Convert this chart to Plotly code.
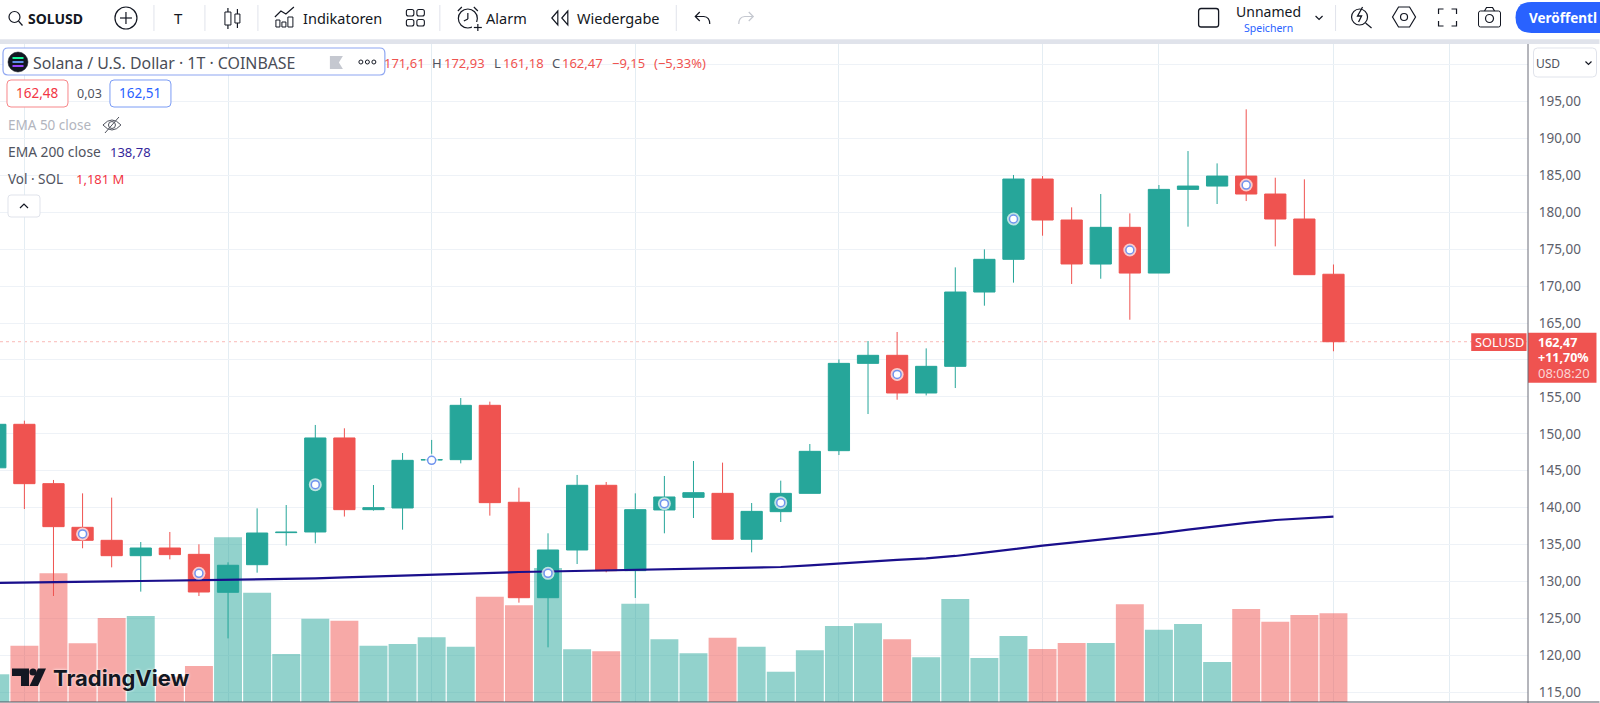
import plotly.graph_objects as go

# ---------- data ----------
candle_index = list(range(-1, 46))
opens = [145.4, 151.29, 143.25, 137.34, 135.58, 133.5, 134.54, 133.68, 128.54, 132.28, 136.62, 136.71, 149.44, 139.73, 139.96,
         146.46, 146.5, 153.86, 140.73, 127.81, 134.27, 143.03, 131.47, 139.69, 141.4, 141.94, 135.72, 139.46, 141.94, 147.72,
         159.54, 160.63, 155.53, 159.14, 169.2, 173.63, 184.5, 178.95, 172.99, 177.96, 171.77, 183.1, 183.55, 184.9, 182.47,
         179.09, 171.61]
highs = [151.8, 151.78, 143.75, 141.94, 141.36, 135.35, 136.71, 135.04, 132.6, 139.91, 140.36, 151.2, 150.75, 143.07, 147.4,
         149.17, 154.85, 154.36, 142.71, 136.53, 144.43, 143.48, 141.94, 144.29, 146.32, 146.1, 140.63, 143.66, 148.62, 160.08,
         162.57, 163.79, 161.57, 172.54, 174.98, 185.05, 184.9, 180.67, 182.47, 179.85, 183.69, 188.29, 186.62, 193.94, 184.68,
         184.46, 172.93]
lows = [143.5, 139.82, 128.04, 134.5, 131.92, 128.63, 133.0, 128.04, 122.3, 131.2, 134.86, 135.17, 138.8, 139.6, 137.02,
        145.8, 146.0, 138.92, 127.14, 121.09, 132.37, 131.25, 127.77, 136.53, 138.6, 135.72, 133.95, 138.06, 141.94, 147.13,
        152.68, 154.62, 155.2, 156.2, 167.35, 170.47, 176.83, 170.29, 171.0, 165.45, 171.77, 178.05, 181.12, 181.52, 175.38,
        171.55, 161.18]
closes = [151.29, 143.25, 137.43, 135.58, 133.5, 134.54, 133.64, 128.58, 132.2, 136.57, 136.68, 149.44, 139.73, 140.0, 146.41,
          146.5, 153.86, 140.68, 127.81, 134.27, 143.03, 131.47, 139.73, 141.45, 142.03, 135.72, 139.5, 141.94, 147.63, 159.54,
          160.63, 155.53, 159.14, 169.2, 173.63, 184.5, 178.95, 173.0, 177.96, 171.77, 183.1, 183.55, 184.9, 182.47, 179.09,
          171.55, 162.47]
volumes_m = [0.369, 0.749, 1.713, 0.781, 1.118, 1.145, 0.337, 0.479, 2.192, 1.455, 0.639, 1.109, 1.082, 0.749, 0.772,
             0.861, 0.736, 1.402, 1.287, 1.784, 0.701, 0.675, 1.308, 0.835, 0.648, 0.856, 0.736, 0.403, 0.688, 1.012,
             1.047, 0.835, 0.595, 1.371, 0.586, 0.878, 0.705, 0.785, 0.785, 1.300, 0.962, 1.038, 0.532, 1.238, 1.069,
             1.158, 1.181]
ema200 = [129.8, 129.88, 129.93, 129.98, 130.02, 130.07, 130.12, 130.18, 130.23, 130.28, 130.34, 130.42, 130.55, 130.68, 130.84,
          130.97, 131.08, 131.2, 131.29, 131.36, 131.43, 131.5, 131.56, 131.62, 131.68, 131.74, 131.85, 131.97, 132.19, 132.46,
          132.69, 132.92, 133.14, 133.46, 133.91, 134.41, 134.86, 135.26, 135.67, 136.07, 136.53, 137.02, 137.52, 137.93, 138.33,
          138.6, 138.78]
signal_index = [2, 6, 10, 14, 18, 22, 26, 30, 34, 38, 42]
signal_price = [136.44, 131.11, 143.12, 146.41, 131.11, 140.54, 140.68, 158.05, 179.09, 174.89, 183.69]
price_ticks = [115, 120, 125, 130, 135, 140, 145, 150, 155, 160, 165, 170, 175, 180, 185, 190, 195, 200]
hidden_tick_labels = [160, 200]
time_grid = [0, 7, 14, 21, 28, 35, 39, 45, 49]
assert len(opens) == len(highs) == len(lows) == len(closes) == len(volumes_m) == len(ema200) == len(candle_index)

GREEN, RED = "#26a69a", "#ef5350"
INK = "#131722"
FONT = "Noto Sans"
W, H = 1600, 703
PR, PT, PB = 1528.5, 44, 702


def X(px):
    return px / PR


def Y(py):
    return 1 - (py - PT) / (PB - PT)


shapes, notes = [], []


def line(x0, y0, x1, y1, color=INK, w=1.2):
    shapes.append(dict(type="line", xref="paper", yref="paper", x0=X(x0), y0=Y(y0), x1=X(x1), y1=Y(y1),
                       line=dict(color=color, width=w), layer="above"))


def rect(x0, y0, x1, y1, color="rgba(0,0,0,0)", fill="rgba(0,0,0,0)", w=1):
    shapes.append(dict(type="rect", xref="paper", yref="paper", x0=X(x0), y0=Y(y0), x1=X(x1), y1=Y(y1),
                       line=dict(color=color, width=w), fillcolor=fill, layer="above"))


def circ(cx, cy, r, color=INK, fill="rgba(0,0,0,0)", w=1.2):
    shapes.append(dict(type="circle", xref="paper", yref="paper", x0=X(cx - r), y0=Y(cy - r), x1=X(cx + r), y1=Y(cy + r),
                       line=dict(color=color, width=w), fillcolor=fill, layer="above"))


def path(cmds, color=INK, fill="rgba(0,0,0,0)", w=1.2):
    out = []
    for c in cmds:
        op, vals = c[0], c[1:]
        pts = [f"{X(vals[i]):.6f} {Y(vals[i + 1]):.6f}" for i in range(0, len(vals), 2)]
        out.append(op + " " + " ".join(pts))
    shapes.append(dict(type="path", xref="paper", yref="paper", path=" ".join(out),
                       line=dict(color=color, width=w), fillcolor=fill, layer="above"))


def rrect(x0, y0, x1, y1, r, color, fill="rgba(0,0,0,0)", w=1):
    path([("M", x0 + r, y0), ("L", x1 - r, y0), ("Q", x1, y0, x1, y0 + r), ("L", x1, y1 - r), ("Q", x1, y1, x1 - r, y1),
          ("L", x0 + r, y1), ("Q", x0, y1, x0, y1 - r), ("L", x0, y0 + r), ("Q", x0, y0, x0 + r, y0), ("Z",)],
         color, fill, w)


def txt(px, py, s, size=13, color=INK, anchor="left", font=FONT):
    notes.append(dict(xref="paper", yref="paper", x=X(px), y=Y(py), text=s, showarrow=False, xanchor=anchor,
                      yanchor="middle", borderpad=0, borderwidth=0, font=dict(family=font, size=size, color=color)))


# ---------- toolbar ----------
rect(0, 0, 1600, 39.3, fill="#ffffff", w=0)
rect(0, 39.3, 1600, 44, fill="#e0e3eb", w=0)
circ(14.5, 17, 5.5)
line(18.5, 21, 22.5, 25.5)
txt(28, 18, "<b>SOLUSD</b>", 14)
circ(126, 18, 11)
line(126, 12, 126, 24)
line(120, 18, 132, 18)
for dx in [154, 205, 258, 440, 676.5, 1336]:
    line(dx, 5, dx, 31, "#e0e3eb", 1)
txt(179, 18, "T", 15, anchor="center")
rect(225, 12, 231, 25, INK)
line(228, 8, 228, 12)
line(228, 25, 228, 29)
rect(235, 14, 240, 23, INK)
line(237.5, 9, 237.5, 14)
line(237.5, 23, 237.5, 28)
rect(276, 20, 280, 27, INK)
rect(282, 22, 286, 27, INK)
rect(288, 17, 293, 27, INK)
path([("M", 275, 17), ("L", 281, 11), ("L", 286, 14), ("L", 294, 7)])
txt(303, 18, "Indikatoren", 14.5)
for lx, ly in [(406.5, 9.5), (417, 9.5), (406.5, 19.5), (417, 19.5)]:
    rrect(lx, ly, lx + 7.5, ly + 6.5, 2, INK, w=1.1)
circ(468, 18.5, 9.5)
line(468, 13, 468, 19)
line(468, 19, 464, 21)
path([("M", 458, 11), ("L", 462, 7)])
path([("M", 478, 11), ("L", 474, 7)])
rect(472, 22, 484, 32, fill="#ffffff", w=0)
line(478, 24, 478, 31)
line(474, 27.5, 482, 27.5)
txt(486, 18, "Alarm", 14.5)
path([("M", 558, 11), ("L", 552, 18), ("L", 558, 25), ("Z",)])
path([("M", 568, 11), ("L", 562, 18), ("L", 568, 25), ("Z",)])
txt(577, 18, "Wiedergabe", 14.5)
path([("M", 700, 12), ("L", 695.5, 16.5), ("L", 700, 21)])
path([("M", 696, 16.5), ("L", 704, 16.5), ("Q", 710, 17, 710, 24)])
path([("M", 749, 12), ("L", 753.5, 16.5), ("L", 749, 21)], "#c4c7cf")
path([("M", 753, 16.5), ("L", 745, 16.5), ("Q", 739, 17, 739, 24)], "#c4c7cf")
rrect(1199, 8.5, 1219, 27, 2.5, INK, w=1.3)
txt(1269, 12, "Unnamed", 14, anchor="center")
txt(1268.5, 28, "Speichern", 10.5, "#2962ff", anchor="center")
path([("M", 1316, 16), ("L", 1319.5, 19.5), ("L", 1323, 16)])
circ(1360, 17, 8)
line(1366, 23, 1372, 28)
path([("M", 1363, 7), ("L", 1358, 16), ("L", 1362, 16), ("L", 1359, 22)], w=1.3)
path([("M", 1399, 7), ("L", 1410, 7), ("L", 1416, 17), ("L", 1410, 27), ("L", 1399, 27), ("L", 1393, 17), ("Z",)])
circ(1404.5, 17, 3.5)
for a, b, c, d, e, f in [(1439, 14, 1439, 9, 1444, 9), (1452, 9, 1457, 9, 1457, 14), (1457, 21, 1457, 26, 1452, 26),
                         (1444, 26, 1439, 26, 1439, 21)]:
    path([("M", a, b), ("L", c, d), ("L", e, f)])
rrect(1479, 11, 1501, 27, 2, INK)
path([("M", 1485, 11), ("L", 1487, 7.5), ("L", 1493, 7.5), ("L", 1495, 11)])
circ(1490, 18.5, 4)
path([("M", 1532, 2), ("L", 1610, 2), ("L", 1610, 33), ("L", 1532, 33), ("Q", 1516, 33, 1516, 17.5), ("Q", 1516, 2, 1532, 2), ("Z",)],
     "#2962ff", "#2962ff", 0)
txt(1530, 18, "<b>Veröffentl</b>", 13.5, "#ffffff")

# ---------- legend panel ----------
rrect(3, 48, 385, 75, 5, "#8ea6f2", "#ffffff", 1.2)
circ(18, 62, 10, INK, INK, 0.5)
for sy, sc in [(58, "#19fb9b"), (62, "#5f8ee8"), (66, "#9945ff")]:
    line(12.5, sy, 23.5, sy, sc, 2)
txt(33, 62.5, "Solana / U.S. Dollar · 1T · COINBASE", 15.9, "#4a4d57", font="Noto Sans")
path([("M", 330, 56), ("L", 343, 56), ("L", 339, 62.5), ("L", 343, 69), ("L", 330, 69), ("Z",)], "#c5c8d0", "#c5c8d0", 0)
for dx in [361, 367.5, 374]:
    circ(dx, 62, 2, INK, w=1)
for px, s, c in [(384, "171,61", RED), (432.5, "H", "#50535e"), (444, "172,93", RED), (494, "L", "#50535e"), (503, "161,18", RED),
                 (552.5, "C", "#50535e"), (562, "162,47", RED), (612, "−9,15", RED), (654, "(−5,33%)", RED)]:
    txt(px, 62.5, s, 13, c)
rrect(7, 80, 68, 107, 4, "#f7878a", "#ffffff", 1)
txt(37.5, 93.5, "162,48", 13.5, "#f23645", anchor="center")
txt(77, 93.5, "0,03", 12.5, "#50535e")
rrect(110, 80, 171, 107, 4, "#7b9cf5", "#ffffff", 1)
txt(140.5, 93.5, "162,51", 13.5, "#2962ff", anchor="center")
txt(8, 125, "EMA 50 close", 13.5, "#b2b5be")
path([("M", 103, 125), ("Q", 112, 115, 121, 125), ("Q", 112, 135, 103, 125), ("Z",)], "#50535e", w=1)
circ(112, 125, 3.5, "#50535e", w=1)
line(105, 133, 119, 117, "#50535e", 1)
txt(8, 152, "EMA 200 close", 13.8, "#50535e")
txt(110, 152, "138,78", 13, "#33259a")
txt(8, 179, "Vol · SOL", 13.5, "#50535e")
txt(76, 179, "1,181 M", 13, "#f23645")
rrect(8, 195, 40, 217, 3, "#e0e3eb", "#ffffff", 1)
path([("M", 20, 208), ("L", 24, 204), ("L", 28, 208)])

# ---------- price axis furniture ----------
rrect(1534, 48, 1597, 77, 4, "#e0e3eb", "#ffffff", 1)
txt(1537, 63, "USD", 12, "#50535e")
path([("M", 1586, 61.5), ("L", 1589, 64.5), ("L", 1592, 61.5)])
rect(1471.7, 333.3, 1527, 351, RED, RED, 0)
txt(1475.5, 342, "SOLUSD", 12.8, "#ffffff")
rect(1528.5, 332.7, 1597, 382.7, RED, RED, 0)
txt(1539, 342, "<b>162,47</b>", 12.5, "#ffffff")
txt(1539, 357.5, "<b>+11,70%</b>", 12.5, "#ffffff")
txt(1539, 372.5, "08:08:20", 13, "#fbd5d4")

# ---------- TradingView mark ----------
path([("M", 12, 668.5), ("L", 29, 668.5), ("L", 29, 686), ("L", 21, 686), ("L", 21, 676), ("L", 12, 676), ("Z",)], INK, INK, 0)
circ(33, 672, 3.6, INK, INK, 0)
path([("M", 38, 668.5), ("L", 46, 668.5), ("L", 38, 686), ("L", 29.5, 686), ("Z",)], INK, INK, 0)
notes.append(dict(xref="paper", yref="paper", x=X(52.5), y=Y(677.5), text="<b>TradingView</b>", showarrow=False, xanchor="left",
                  yanchor="middle", borderpad=0,
                  font=dict(family="Inter", size=22, color=INK, shadow="0 0 3px #ffffff")))

# axis edges
line(PR, PT, PR, PB + 1, "#6a6d78", 1)
line(0, PB, W, PB, "#50535e", 1.2)
# last price line
shapes.append(dict(type="line", xref="paper", yref="y2", x0=0, x1=1, y0=closes[-1], y1=closes[-1],
                   line=dict(color="#f9b9b7", width=1, dash="dot"), layer="below"))

vol_colors = ["rgba(38,166,154,0.5)" if c >= o else "rgba(239,83,80,0.5)" for o, c in zip(opens, closes)]

fig = go.Figure()
fig.add_trace(go.Bar(x=candle_index, y=volumes_m, marker=dict(color=vol_colors, line=dict(width=0)), yaxis="y", hoverinfo="skip"))
fig.add_trace(go.Scatter(x=candle_index, y=ema200, mode="lines", line=dict(color="#1a0f8c", width=2.2), yaxis="y2", hoverinfo="skip"))
fig.add_trace(go.Candlestick(x=candle_index, open=opens, high=highs, low=lows, close=closes, yaxis="y2",
                             increasing=dict(line=dict(color=GREEN, width=1), fillcolor=GREEN),
                             decreasing=dict(line=dict(color=RED, width=1), fillcolor=RED),
                             whiskerwidth=0, hoverinfo="skip"))
fig.add_trace(go.Scatter(x=signal_index, y=signal_price, mode="markers", yaxis="y2", hoverinfo="skip",
                         marker=dict(size=13, color="rgba(255,255,255,0.7)", line=dict(width=0))))
fig.add_trace(go.Scatter(x=signal_index, y=signal_price, mode="markers", yaxis="y2", hoverinfo="skip",
                         marker=dict(size=8, color="#ffffff", line=dict(color="#6f93ee", width=1.5))))

PX_PER_CANDLE = 29.1
X0 = 24.4
P_TOP = 195 + (101.5 - PT) / 7.385
P_BOT = 195 - (PB - 101.5) / 7.385
VOL_PER_PX = 1.181 / 88.7

fig.update_layout(
    width=W, height=H, autosize=False, showlegend=False,
    margin=dict(l=0, r=W - PR, t=PT, b=H - PB, pad=0),
    paper_bgcolor="#ffffff", plot_bgcolor="#ffffff",
    separators=", ", bargap=0.04, boxgap=0.27, boxgroupgap=0,
    font=dict(family=FONT, size=13, color="#50535e"),
    xaxis=dict(range=[-X0 / PX_PER_CANDLE, (PR - X0) / PX_PER_CANDLE], rangeslider=dict(visible=False),
               tickmode="array", tickvals=time_grid, showticklabels=False, ticks="",
               showgrid=True, gridcolor="#e4edf3", gridwidth=1, zeroline=False, showline=False, fixedrange=True),
    yaxis=dict(range=[0, (PB - PT) * VOL_PER_PX], visible=False, showgrid=False, zeroline=False, fixedrange=True),
    yaxis2=dict(range=[P_BOT, P_TOP], overlaying="y", side="right", tickmode="array", tickvals=price_ticks,
                ticktext=["" if t in hidden_tick_labels else f"{t},00" for t in price_ticks],
                showgrid=True, gridcolor="#eef2f7", gridwidth=1, zeroline=False, showline=False,
                ticks="outside", ticklen=7, tickcolor="rgba(0,0,0,0)", tickwidth=1, fixedrange=True,
                tickfont=dict(family=FONT, size=13.5, color="#5d606b"), automargin=False),
    shapes=shapes, annotations=notes,
)

fig.write_html("out.html", config=dict(displayModeBar=False, staticPlot=True),
               post_script="document.body.style.margin='0';document.body.style.overflow='hidden';")
